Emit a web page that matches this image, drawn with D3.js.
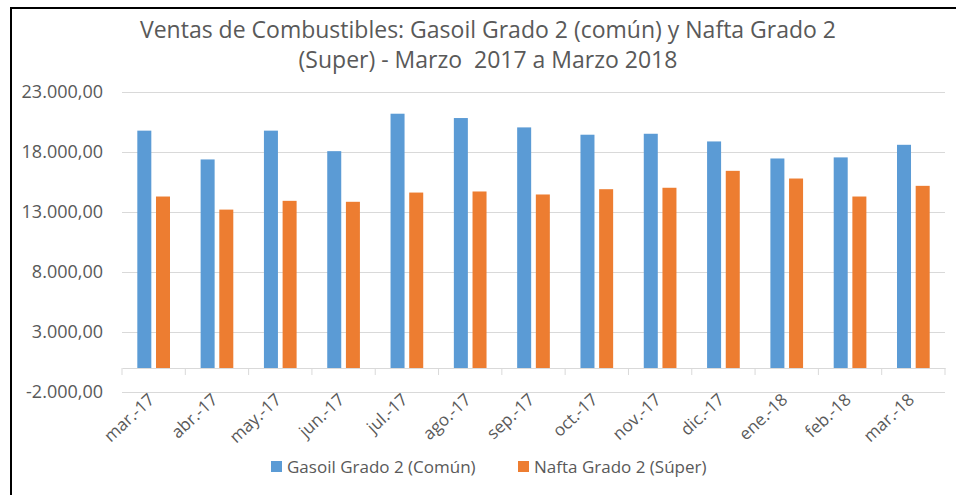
<!DOCTYPE html>
<html>
<head>
<meta charset="utf-8">
<script src="https://cdn.jsdelivr.net/npm/d3@7"></script>
<style>
  body { margin: 0; background: #fff; }
  svg { display: block; font-family: "Open Sans", sans-serif; }
  text { fill: #595959; }
</style>
</head>
<body>
<div id="chart"></div>
<script>
// data
const months = ['mar.-17', 'abr.-17', 'may.-17', 'jun.-17', 'jul.-17', 'ago.-17', 'sep.-17',
  'oct.-17', 'nov.-17', 'dic.-17', 'ene.-18', 'feb.-18', 'mar.-18'];
const gasoil = [19780, 17380, 19780, 18070, 21190, 20830, 20050, 19440, 19520, 18880, 17460, 17550, 18600];
const nafta = [14290, 13200, 13930, 13850, 14620, 14710, 14460, 14900, 15020, 16430, 15790, 14290, 15180];
const seriesNames = ['Gasoil Grado 2 (Común)', 'Nafta Grado 2 (Súper)'];
const seriesColors = ['#5B9BD5', '#ED7D31'];
const yTicks = [-2000, 3000, 8000, 13000, 18000, 23000];
const titleLines = ['Ventas de Combustibles: Gasoil Grado 2 (común) y Nafta Grado 2',
  '(Super) - Marzo  2017 a Marzo 2018'];

const width = 956, height = 495;
const margin = { top: 92, right: 11, bottom: 103, left: 122 };

const locale = d3.formatLocale({ decimal: ',', thousands: '.', grouping: [3], currency: ['$', ''], minus: '-' });
const fmt = locale.format(',.2f');

const svg = d3.select('#chart').append('svg')
  .attr('width', width)
  .attr('height', height);

// outer frame (left + top edges only)
svg.append('path')
  .attr('d', `M11,${height} V8 H${width}`)
  .attr('fill', 'none')
  .attr('stroke', '#000')
  .attr('stroke-width', 2);

const x0 = d3.scaleBand()
  .domain(months)
  .range([margin.left, width - margin.right]);

const x1 = d3.scaleBand()
  .domain([0, 1])
  .range([0, x0.bandwidth()])
  .paddingInner(0.25)
  .paddingOuter(0.82);

const y = d3.scaleLinear()
  .domain([-2000, 23000])
  .range([height - margin.bottom, margin.top]);

// gridlines + y labels
const yAxis = d3.axisLeft(y)
  .tickValues(yTicks)
  .tickSize(-(width - margin.right - margin.left))
  .tickPadding(19)
  .tickFormat(fmt);

const gy = svg.append('g')
  .attr('transform', `translate(${margin.left},0)`)
  .call(yAxis);
gy.select('.domain').remove();
gy.selectAll('.tick line').attr('stroke', '#D9D9D9').attr('stroke-width', 1);
gy.selectAll('.tick text')
  .style('font-size', '18px')
  .style('font-family', '"Open Sans", sans-serif')
  .attr('fill', '#595959');

// bars
const data = months.map((m, i) => ({ month: m, values: [gasoil[i], nafta[i]] }));

const groups = svg.append('g').attr('class', 'bars')
  .selectAll('g')
  .data(data)
  .join('g')
  .attr('transform', (d) => `translate(${x0(d.month)},0)`);

groups.selectAll('rect')
  .data((d) => d.values.map((v, k) => ({ v, k })))
  .join('rect')
  .attr('x', (d) => x1(d.k))
  .attr('width', x1.bandwidth())
  .attr('y', (d) => y(d.v))
  .attr('height', (d) => y(0) - y(d.v))
  .attr('fill', (d) => seriesColors[d.k]);

// category axis at zero
const xAxis = d3.axisBottom(x0).tickSize(0).tickPadding(0);
const gx = svg.append('g')
  .attr('transform', `translate(0,${y(0)})`)
  .call(xAxis);
gx.select('.domain').attr('stroke', '#D9D9D9');
gx.selectAll('.tick text').remove();

// ticks between categories
gx.selectAll('line.sep')
  .data(months.concat(['end']))
  .join('line')
  .attr('class', 'sep')
  .attr('x1', (d, i) => x0.range()[0] + i * x0.step())
  .attr('x2', (d, i) => x0.range()[0] + i * x0.step())
  .attr('y1', 0)
  .attr('y2', 7)
  .attr('stroke', '#D9D9D9');

// rotated month labels
svg.append('g').selectAll('text')
  .data(months)
  .join('text')
  .attr('transform', (d) => `translate(${x0(d) + x0.bandwidth() / 2 + 2},${y(-2000) + 9}) rotate(-43)`)
  .attr('text-anchor', 'end')
  .style('font-size', '17px')
  .text((d) => d);

// title
svg.append('g').selectAll('text')
  .data(titleLines)
  .join('text')
  .attr('x', 488)
  .attr('y', (d, i) => 38 + i * 30)
  .attr('text-anchor', 'middle')
  .style('font-size', '23px')
  .style('white-space', 'pre')
  .text((d) => d);

// legend
const legendX = [271, 518];
const legend = svg.append('g').selectAll('g')
  .data(seriesNames)
  .join('g')
  .attr('transform', (d, i) => `translate(${legendX[i]},461)`);
legend.append('rect')
  .attr('width', 11)
  .attr('height', 11)
  .attr('fill', (d, i) => seriesColors[i]);
legend.append('text')
  .attr('x', 16)
  .attr('y', 6)
  .attr('dy', '0.35em')
  .style('font-size', '17px')
  .text((d) => d);
</script>
</body>
</html>
